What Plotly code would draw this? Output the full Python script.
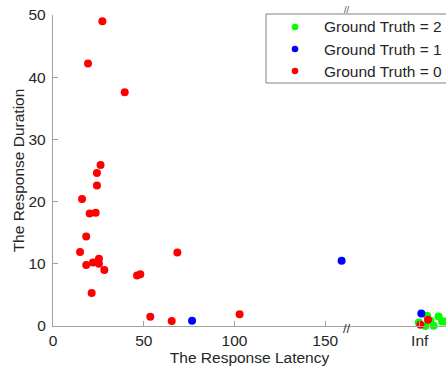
import plotly.graph_objects as go

# ---- data (x: response latency, y: response duration) ----
# values near 202 are the "Inf" column (slightly spread around the Inf tick)
green_latency = [206.1, 212.4, 214.3, 216.1, 209.7, 205.1, 201.5, 207.9]
green_duration = [1.65, 1.54, 0.74, 0.74, 0.05, 0.0, 0.58, 0.85]

blue_latency = [76.6, 159.0, 202.9]
blue_duration = [0.85, 10.5, 2.0]

red_latency = [27.2, 19.3, 39.5, 26.2, 24.2, 24.2, 16.0, 20.2, 23.5, 18.3,
               14.9, 18.3, 22.0, 25.3, 25.3, 28.3, 21.3, 46.3, 48.1, 53.6,
               65.4, 68.5, 102.8, 206.6, 202.4]
red_duration = [49.0, 42.2, 37.6, 25.9, 24.6, 22.6, 20.4, 18.1, 18.2, 14.4,
                11.9, 9.8, 10.2, 10.8, 10.0, 9.0, 5.3, 8.1, 8.3, 1.5,
                0.8, 11.8, 1.9, 1.0, 0.2]

series_names = ["Ground Truth = 2", "Ground Truth = 1", "Ground Truth = 0"]
series_colors = ["#00ff00", "#0000ff", "#ff0000"]

x_tickvals = [0, 50, 100, 150, 202]
x_ticktext = ["0", "50", "100", "150", "Inf"]
y_tickvals = [0, 10, 20, 30, 40, 50]
break_at = 162.1

FONT = "Liberation Sans, Arial, sans-serif"
TXT = "#262626"
AX = "#a0a0a0"

W, H = 446, 369
ML, MR, MT, MB = 53, 0, 15, 43
PW, PH = W - ML - MR, H - MT - MB


def px_x(p):  # pixel -> paper x
    return (p - ML) / PW


def px_y(p):  # pixel -> paper y
    return (H - MB - p) / PH


fig = go.Figure()
for name, xs, ys, col in zip(series_names,
                             [green_latency, blue_latency, red_latency],
                             [green_duration, blue_duration, red_duration],
                             series_colors):
    fig.add_trace(go.Scatter(
        x=xs, y=ys, mode="markers", name=name, cliponaxis=False,
        marker=dict(color=col, size=8, line=dict(width=0)),
    ))

fig.update_layout(
    width=W, height=H,
    margin=dict(l=ML, r=MR, t=MT, b=MB, autoexpand=False),
    paper_bgcolor="white", plot_bgcolor="white",
    font=dict(family=FONT, size=15.5, color=TXT),
    showlegend=False,
)
fig.update_xaxes(
    range=[0, 216.5], tickvals=x_tickvals, ticktext=x_ticktext,
    showgrid=False, zeroline=False, showline=True, linecolor=AX, linewidth=1.3,
    ticks="inside", ticklen=5, tickcolor=AX, tickwidth=1,
    ticklabelstandoff=0,
    title=dict(text="The Response Latency", standoff=2,
               font=dict(family=FONT, size=15.5, color=TXT)),
)
fig.update_yaxes(
    range=[0, 50], tickvals=y_tickvals,
    showgrid=False, zeroline=False, showline=True, linecolor=AX, linewidth=1.3,
    ticks="inside", ticklen=5, tickcolor=AX, tickwidth=1,
    ticklabelstandoff=3,
    title=dict(text="The Response Duration", standoff=0,
               font=dict(family=FONT, size=15.5, color=TXT)),
)

# axis-break marks
fig.add_annotation(
    x=break_at, xref="x", y=0, yref="paper", yshift=-2,
    text="//", showarrow=False, xanchor="center", yanchor="middle",
    font=dict(family=FONT, size=13, color="#303030"),
)
fig.add_annotation(
    x=break_at, xref="x", y=1, yref="paper", yshift=5,
    text="//", showarrow=False, xanchor="center", yanchor="middle",
    font=dict(family=FONT, size=9, color="#404040"),
)

# legend box (drawn by hand to match the reference's compact spacing)
fig.add_shape(type="rect", xref="paper", yref="paper",
              x0=px_x(266), x1=px_x(449), y0=px_y(83), y1=px_y(14),
              line=dict(color="#808080", width=1), fillcolor="white", layer="above")
row_y = [27, 49, 71]
r = 3.3
for name, col, ry in zip(series_names, series_colors, row_y):
    fig.add_shape(type="circle", xref="paper", yref="paper",
                  x0=px_x(295 - r), x1=px_x(295 + r),
                  y0=px_y(ry + r), y1=px_y(ry - r),
                  line=dict(width=0), fillcolor=col, layer="above")
    fig.add_annotation(x=px_x(322), y=px_y(ry), xref="paper", yref="paper",
                       text=name, showarrow=False, xanchor="left", yanchor="middle",
                       font=dict(family=FONT, size=15.5, color=TXT))

fig.write_html("out.html", config={"displayModeBar": False},
               post_script="document.body.style.margin='0';document.body.style.padding='0';")
